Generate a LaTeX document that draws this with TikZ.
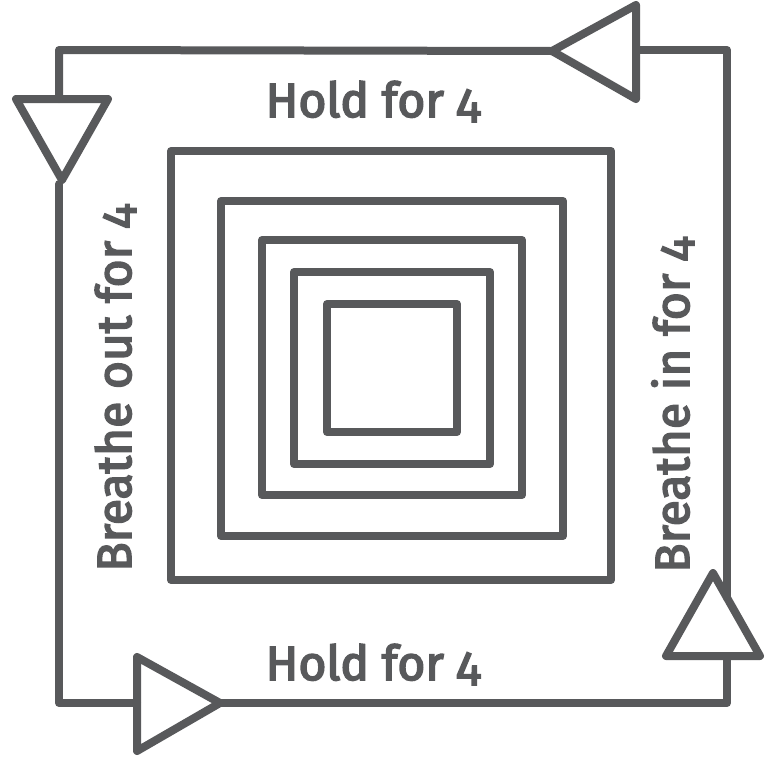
\documentclass[tikz,border=0pt]{standalone}
\usepackage{fontspec}
\setmainfont{Fira Sans}[Numbers=OldStyle]
\newfontfamily\labfont{Fira Sans}[Numbers=OldStyle,FakeBold=3.5]
\definecolor{ink}{RGB}{88,89,91}
\begin{document}
\begin{tikzpicture}[x=1pt,y=-1pt,
  lineart/.style={draw=ink,line width=8pt,line join=round,line cap=round},
  label/.style={text=ink,font=\labfont\fontsize{48}{50}\selectfont,inner sep=0pt,anchor=base}]
\useasboundingbox[fill=white] (0,0) rectangle (765,769);
% nested squares
\draw[lineart] (171,151) rectangle (611,580);
\draw[lineart] (221,201) rectangle (563,536);
\draw[lineart] (262,240) rectangle (522,495);
\draw[lineart] (294,272) rectangle (490,464);
\draw[lineart] (327,304) rectangle (457,432);
% outer loop coordinates
\coordinate (tlA) at (62,180);
\coordinate (trA) at (552,51);
\coordinate (brA) at (713,573);
\coordinate (blA) at (220,703);
% triangles
\draw[lineart] (16,99) -- (108,99) -- (tlA) -- cycle;
\draw[lineart] (636,5) -- (636,99) -- (trA) -- cycle;
\draw[lineart] (666,656) -- (760,656) -- (brA) -- cycle;
\draw[lineart] (137,657) -- (137,751) -- (blA) -- cycle;
% connecting lines
\draw[lineart] (59,99) -- (59,50) -- (trA);
\draw[lineart] (636,50) -- (727,50) -- (727,598);
\draw[lineart] (727,656) -- (727,703) -- (blA);
\draw[lineart] (137,703) -- (59,703) -- (59,184);
% labels
\node[label] (htop) at (373,117) {Hold for 4};
\node[label] (hbot) at (373,680) {Hold for 4};
\node[label,rotate=90] (bout) at (131,388) {Breathe out for 4};
\node[label,rotate=90] (bin) at (689,405) {Breathe in for 4};
\end{tikzpicture}
\end{document}
